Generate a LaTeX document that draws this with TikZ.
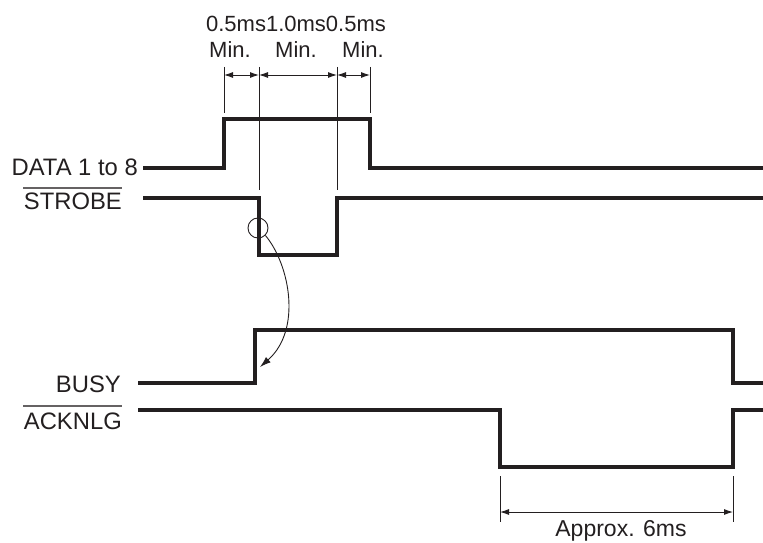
\documentclass[tikz,border=0pt]{standalone}
\usepackage{fontspec}
\setmainfont{Liberation Sans}
\usetikzlibrary{arrows.meta}
\definecolor{ink}{HTML}{231F20}
\tikzset{
  sig/.style={line width=3.2pt, draw=ink, line join=miter},
  thin/.style={line width=0.9pt, draw=ink},
  dim/.style={line width=0.9pt, draw=ink, {Latex[length=9pt,width=6pt]}-{Latex[length=9pt,width=6pt]}},
  lbl/.style={font=\fontsize{22}{26}\selectfont, text=ink, inner sep=0pt},
  lbig/.style={font=\fontsize{23.8}{28}\selectfont, text=ink, inner sep=0pt},
  ovl/.style={line width=1.2pt, draw=ink!70}
}
\begin{document}
\begin{tikzpicture}[x=1pt,y=-1pt]
\useasboundingbox (0,0) rectangle (763,543);
% labels
\node[lbig, anchor=east] (ldata) at (138,167) {DATA 1 to 8};
\node[lbig, anchor=east] (lstrobe) at (122,201) {STROBE};
\draw[ovl] (23,188) -- (122,188);
\node[lbig, anchor=east] (lbusy) at (121,384) {BUSY};
\node[lbig, anchor=east] (lack) at (122,421) {ACKNLG};
\draw[ovl] (23,406) -- (122,406);
% timing labels
\node[lbl] (t1) at (296,24) {0.5ms1.0ms0.5ms};
\node[lbl] (m1) at (230,50) {Min.};
\node[lbl] (m2) at (296,50) {Min.};
\node[lbl] (m3) at (363,50) {Min.};
\node[lbl, font=\fontsize{23}{27}\selectfont] (t2) at (621,531) {Approx. 6ms};
% coordinates
\coordinate (a) at (224,67);
\coordinate (b) at (259,67);
\coordinate (c) at (337,67);
\coordinate (d) at (370,67);
% extension lines
\draw[thin] (a) -- (224,113);
\draw[thin] (b) -- (259,190);
\draw[thin] (c) -- (337,190);
\draw[thin] (d) -- (370,113);
\draw[dim] (224,75) -- (259,75);
\draw[dim] (259,75) -- (337,75);
\draw[dim] (337,75) -- (370,75);
% signals
\draw[sig] (143,168) -- (224,168) -- (224,119) -- (370,119) -- (370,168) -- (763,168);
\draw[sig] (143,198) -- (259,198) -- (259,255) -- (337,255) -- (337,198) -- (763,198);
\draw[sig] (138,383) -- (255,383) -- (255,330) -- (733,330) -- (733,383) -- (763,383);
\draw[sig] (138,410) -- (500,410) -- (500,467) -- (733,467) -- (733,410) -- (763,410);
% circle and arrow
\node[draw=ink, line width=0.9pt, circle, minimum size=20pt, inner sep=0pt] (circ) at (258,228) {};
\coordinate (tip) at (260,367);
\draw[thin, -{Latex[length=11pt,width=7pt]}] (circ.south east) .. controls (290,265) and (302,330) .. (tip);
% bottom dimension
\draw[thin] (500,476) -- (500,522);
\draw[thin] (733,476) -- (733,522);
\draw[dim] (500,512) -- (733,512);
\end{tikzpicture}
\end{document}
